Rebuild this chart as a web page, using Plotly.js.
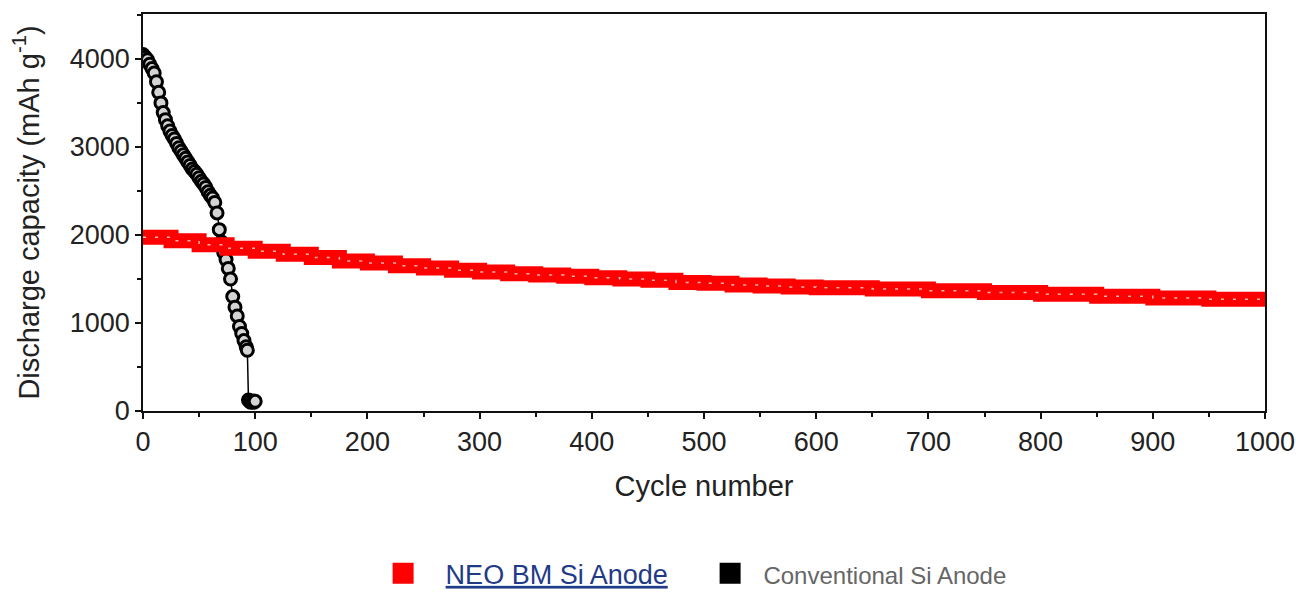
<!DOCTYPE html>
<html>
<head>
<meta charset="utf-8">
<script src="https://cdn.plot.ly/plotly-3.0.1.min.js"></script>
<style>html,body{margin:0;padding:0;background:#fff;}#chart{width:1296px;height:592px;}</style>
</head>
<body>
<div id="chart"></div>
<script>
// NEO BM Si Anode (red band)
const cycleNeo = [0,25,50,75,100,125,150,175,200,225,250,275,300,325,350,375,400,425,450,475,500,525,550,575,600,650,700,750,800,850,900,950,1000];
const capNeo   = [1975,1935,1890,1850,1815,1780,1745,1705,1680,1650,1625,1600,1580,1560,1545,1530,1515,1500,1485,1460,1450,1432,1420,1410,1400,1385,1366,1345,1325,1305,1285,1270,1255];

// Conventional Si Anode (black circles)
const cycleConv = [0,2,4,6,8,10,12,14,16,18,20,22,24,26,28,30,32,34,36,38,40,42,44,46,48,50,52,54,56,58,60,62,64,66,68,70,72,74,76,78,80,82,84,86,88,90,92,93,94,95,96,97,98,99,100];
const capConv   = [4050,4020,3990,3940,3890,3840,3740,3620,3500,3390,3310,3240,3180,3130,3090,3040,2990,2950,2910,2870,2830,2790,2750,2720,2690,2650,2610,2580,2540,2490,2450,2420,2370,2250,2060,1920,1800,1720,1620,1500,1300,1180,1080,960,880,800,730,690,125,110,100,105,115,100,110];

const xTickVals = [0,100,200,300,400,500,600,700,800,900,1000];
const yTickVals = [0,1000,2000,3000,4000];

const nameNeo  = '&nbsp;&nbsp;&nbsp;<span style="color:#1f3b87;text-decoration:underline">NEO BM Si Anode</span>';
const nameConv = '<span style="color:#666666;font-size:24px">&nbsp;&nbsp;Conventional Si Anode</span>';

const traces = [
  {
    x: cycleConv, y: capConv, type: 'scatter', mode: 'lines+markers',
    line: {color: '#000', width: 1.5},
    marker: {symbol: 'circle', size: 12, color: '#d4d4d4', line: {color: '#000', width: 3}},
    showlegend: false, legendgroup: 'conv', hoverinfo: 'x+y'
  },
  {
    x: cycleNeo, y: capNeo, type: 'scatter', mode: 'lines',
    line: {color: '#ff0000', width: 15, shape: 'hv'},
    showlegend: false, legendgroup: 'neo', hoverinfo: 'x+y'
  },
  {
    x: cycleNeo, y: capNeo, type: 'scatter', mode: 'lines',
    line: {color: 'rgba(255,255,255,0.7)', width: 1.5, shape: 'hv', dash: '3px,9px'},
    showlegend: false, legendgroup: 'neo', hoverinfo: 'skip'
  },
  {
    x: [null], y: [null], type: 'scatter', mode: 'markers', name: nameNeo,
    marker: {symbol: 'square', size: 16, color: '#ff0000', line: {color: '#ff0000', width: 5}},
    legendgroup: 'neo'
  },
  {
    x: [null], y: [null], type: 'scatter', mode: 'markers', name: nameConv,
    marker: {symbol: 'square', size: 16, color: '#000000', line: {color: '#000000', width: 5}},
    legendgroup: 'conv'
  }
];

const axisCommon = {
  showline: true, mirror: true, linecolor: '#111', linewidth: 1.5,
  ticks: 'outside', ticklen: 6, tickwidth: 1.5, tickcolor: '#111',
  showgrid: false, zeroline: false, automargin: false,
  tickfont: {size: 27, color: '#222'}
};

const layout = {
  width: 1296, height: 592,
  margin: {l: 143, r: 31, t: 14, b: 181, pad: 0, autoexpand: false},
  paper_bgcolor: '#fff', plot_bgcolor: '#fff',
  font: {family: 'Arial, "Liberation Sans", sans-serif', color: '#222'},
  xaxis: Object.assign({}, axisCommon, {
    range: [0, 1000], tickvals: xTickVals,
    minor: {dtick: 50, tick0: 0, ticks: 'outside', ticklen: 4, tickwidth: 1.5, tickcolor: '#111'},
    title: {text: 'Cycle number', font: {size: 29, color: '#222'}, standoff: 20}
  }),
  yaxis: Object.assign({}, axisCommon, {
    range: [0, 4510], tickvals: yTickVals,
    minor: {dtick: 500, tick0: 0, ticks: 'outside', ticklen: 4, tickwidth: 1.5, tickcolor: '#111'},
    title: {text: 'Discharge capacity (mAh g<sup>-1</sup>)', font: {size: 29, color: '#222'}, standoff: 22}
  }),
  showlegend: true,
  legend: {
    orientation: 'h', x: 0.214, xanchor: 'left', y: -0.41, yanchor: 'middle',
    font: {size: 27, color: '#222'}, bgcolor: 'rgba(0,0,0,0)',
    entrywidth: 282, entrywidthmode: 'pixels'
  }
};

Plotly.newPlot('chart', traces, layout, {displayModeBar: false});
</script>
</body>
</html>
